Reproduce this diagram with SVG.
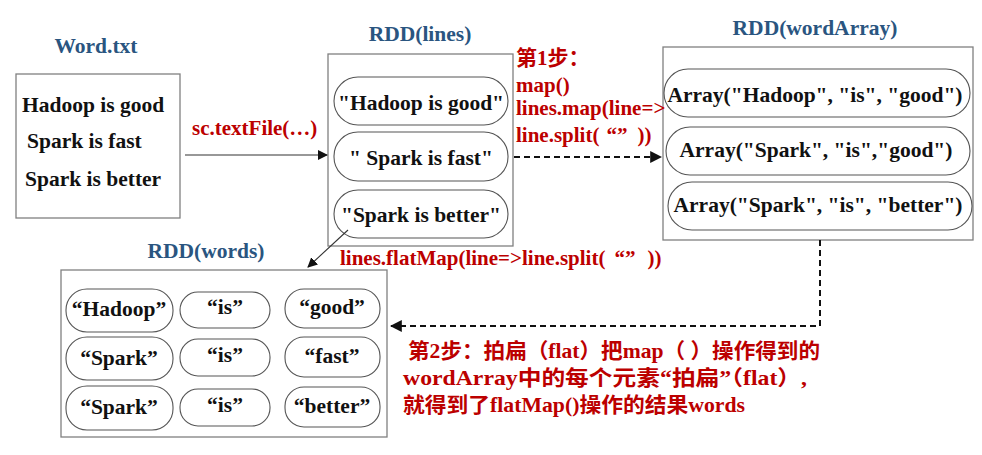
<svg xmlns="http://www.w3.org/2000/svg" width="982" height="455" viewBox="0 0 982 455">
<defs>
<style>
.t{font-family:"Liberation Serif","Noto Sans CJK SC",serif;font-weight:bold;font-size:21.5px;fill:#111}
.m{text-anchor:middle}
.ttl{fill:#2A5580;font-size:21.5px}
.red{fill:#BC0000;font-size:21px}
.box{fill:#fff;stroke:#808080;stroke-width:1.3}
.pill{fill:#fff;stroke:#555;stroke-width:1.1}
.ln{fill:none;stroke:#333;stroke-width:1.1}
.dash{fill:none;stroke:#111;stroke-width:2;stroke-dasharray:6 4}
</style>
<marker id="ah" viewBox="0 0 10 10" refX="9" refY="5" markerWidth="10" markerHeight="10" markerUnits="userSpaceOnUse" orient="auto">
<path d="M0,0 L10,5 L0,10 z" fill="#111"/>
</marker>
<marker id="ahs" viewBox="0 0 10 10" refX="9" refY="5" markerWidth="6" markerHeight="6" orient="auto">
<path d="M0,0 L10,5 L0,10 z" fill="#111"/>
</marker>
</defs>
<rect width="982" height="455" fill="#fff"/>

<g id="wordtxt">
<text class="t ttl m" x="96" y="53">Word.txt</text>
<rect class="box" x="16" y="74" width="164" height="144"/>
<text class="t" x="22" y="112">Hadoop is good</text>
<text class="t" x="27" y="148">Spark is fast</text>
<text class="t" x="25" y="186">Spark is better</text>
</g>

<g id="rdd-lines">
<text class="t ttl m" x="420" y="41">RDD(lines)</text>
<rect class="box" x="328" y="54" width="185" height="192"/>
<rect class="pill" x="334" y="77" width="174" height="48" rx="24"/>
<rect class="pill" x="334" y="132" width="174" height="49" rx="24"/>
<rect class="pill" x="334" y="190" width="174" height="48" rx="24"/>
<text class="t m" x="421" y="110">"Hadoop is good"</text>
<text class="t m" x="421" y="165">" Spark is fast"</text>
<text class="t m" x="421" y="222">"Spark is better"</text>
</g>

<g id="rdd-wordarray">
<text class="t ttl m" x="815" y="35">RDD(wordArray)</text>
<rect class="box" x="663" y="47" width="310" height="193"/>
<rect class="pill" x="664" y="69" width="306" height="48" rx="24"/>
<rect class="pill" x="666" y="127" width="304" height="48" rx="24"/>
<rect class="pill" x="668" y="182" width="304" height="48" rx="24"/>
<text class="t m" x="815" y="102">Array("Hadoop", "is", "good")</text>
<text class="t m" x="816" y="157">Array("Spark", "is","good")</text>
<text class="t m" x="818" y="212">Array("Spark", "is", "better")</text>
</g>

<g id="rdd-words">
<text class="t ttl m" x="206" y="258">RDD(words)</text>
<rect class="box" x="61" y="270" width="326" height="167"/>
<rect class="pill" x="66" y="289" width="107" height="43" rx="21"/>
<rect class="pill" x="66" y="337" width="107" height="43" rx="21"/>
<rect class="pill" x="66" y="386" width="107" height="44" rx="21"/>
<rect class="pill" x="180" y="292" width="90" height="36" rx="18"/>
<rect class="pill" x="180" y="339" width="90" height="37" rx="18"/>
<rect class="pill" x="180" y="389" width="90" height="37" rx="18"/>
<rect class="pill" x="285" y="289" width="95" height="39" rx="19"/>
<rect class="pill" x="285" y="337" width="95" height="40" rx="19"/>
<rect class="pill" x="285" y="387" width="95" height="40" rx="19"/>
<text class="t m" x="119" y="316">“Hadoop”</text>
<text class="t m" x="119" y="365">“Spark”</text>
<text class="t m" x="119" y="414">“Spark”</text>
<text class="t m" x="225" y="314">“is”</text>
<text class="t m" x="225" y="362">“is”</text>
<text class="t m" x="225" y="412">“is”</text>
<text class="t m" x="332" y="314">“good”</text>
<text class="t m" x="332" y="363">“fast”</text>
<text class="t m" x="332" y="413">“better”</text>
</g>

<g id="connectors">
<line class="ln" x1="185" y1="155" x2="327" y2="155" marker-end="url(#ah)"/>
<line class="dash" x1="514" y1="157" x2="661" y2="157" marker-end="url(#ahs)"/>
<line class="ln" x1="348" y1="230" x2="308" y2="267" marker-end="url(#ah)"/>
<polyline class="dash" points="820,240 820,326 391,326" marker-end="url(#ahs)"/>
</g>

<g id="labels">
<text class="t red" x="192" y="135">sc.textFile(…)</text>
<text class="t red" x="516" y="65">第1步：</text>
<text class="t red" x="516" y="92">map()</text>
<text class="t red" x="516" y="115">lines.map(line=&gt;</text>
<text class="t red" x="516" y="142">line.split(<tspan dx="7">“”</tspan><tspan dx="10">))</tspan></text>
<text class="t red" x="340" y="265">lines.flatMap(line=&gt;line.split(<tspan dx="9">“”</tspan><tspan dx="12">))</tspan></text>
<text class="t red" x="408" y="358" textLength="412" lengthAdjust="spacingAndGlyphs">第2步：拍扁（flat）把map（ ）操作得到的</text>
<text class="t red" x="403" y="385" textLength="404" lengthAdjust="spacingAndGlyphs">wordArray中的每个元素“拍扁”（flat）,</text>
<text class="t red" x="403" y="412" textLength="342" lengthAdjust="spacingAndGlyphs">就得到了flatMap()操作的结果words</text>
</g>
</svg>
